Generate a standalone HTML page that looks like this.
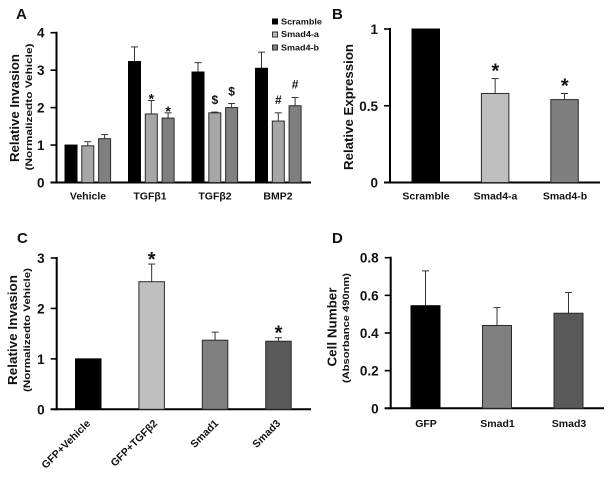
<!DOCTYPE html>
<html>
<head>
<meta charset="utf-8">
<style>
html,body{margin:0;padding:0;background:#fff;width:612px;height:477px;overflow:hidden}
svg{display:block;filter:blur(.35px)}
text{font-family:"Liberation Sans",sans-serif;fill:#111}
.b{font-weight:bold}
</style>
</head>
<body>
<svg id="figure" width="612" height="477" viewBox="0 0 612 477" xmlns="http://www.w3.org/2000/svg">
<rect width="612" height="477" fill="#fff"/>
<text class="b" x="16" y="19" font-size="15">A</text>
<text class="b" x="332" y="19" font-size="15">B</text>
<text class="b" x="17" y="243" font-size="15">C</text>
<text class="b" x="332" y="243" font-size="15">D</text>

<text class="b" transform="translate(19,108) rotate(-90)" text-anchor="middle" font-size="12.5" textLength="108" lengthAdjust="spacingAndGlyphs">Relative Invasion</text>
<text class="b" transform="translate(32,107) rotate(-90)" text-anchor="middle" font-size="9.5" textLength="127" lengthAdjust="spacingAndGlyphs">(Normalizedto Vehicle)</text>
<text class="b" transform="translate(353,107) rotate(-90)" text-anchor="middle" font-size="12.5" textLength="126" lengthAdjust="spacingAndGlyphs">Relative Expression</text>
<text class="b" transform="translate(17,330) rotate(-90)" text-anchor="middle" font-size="12.5" textLength="110" lengthAdjust="spacingAndGlyphs">Relative Invasion</text>
<text class="b" transform="translate(30,330) rotate(-90)" text-anchor="middle" font-size="9.5" textLength="124" lengthAdjust="spacingAndGlyphs">(Normalizedto Vehicle)</text>
<text class="b" transform="translate(336.5,327) rotate(-90)" text-anchor="middle" font-size="12.5" textLength="79" lengthAdjust="spacingAndGlyphs">Cell Number</text>
<text class="b" transform="translate(349,328) rotate(-90)" text-anchor="middle" font-size="9.5" textLength="110" lengthAdjust="spacingAndGlyphs">(Absorbance 490nm)</text>

<g>
<rect x="272.5" y="19" width="5" height="5" fill="#000" stroke="#000" stroke-width="1"/>
<text class="b" x="281" y="24.5" font-size="8.5" textLength="41" lengthAdjust="spacingAndGlyphs">Scramble</text>
<rect x="272.5" y="32" width="5" height="5" fill="#bbb" stroke="#333" stroke-width="1"/>
<text class="b" x="281" y="37" font-size="8.5" textLength="38" lengthAdjust="spacingAndGlyphs">Smad4-a</text>
<rect x="272.5" y="45" width="5" height="5" fill="#7f7f7f" stroke="#333" stroke-width="1"/>
<text class="b" x="281" y="50.5" font-size="8.5" textLength="38" lengthAdjust="spacingAndGlyphs">Smad4-b</text>
</g>
</svg>

<script>
// Panel A
const aCategories = ['Vehicle', 'TGFβ1', 'TGFβ2', 'BMP2'];
const aScramble = [1, 3.23, 2.95, 3.05];
const aScrambleTop = [null, 3.62, 3.2, 3.48];
const aSmad4a = [0.98, 1.83, 1.86, 1.64];
const aSmad4aTop = [1.09, 2.19, 1.88, 1.86];
const aSmad4b = [1.17, 1.72, 2.0, 2.05];
const aSmad4bTop = [1.28, 1.86, 2.11, 2.27];
const aSigA = ['', '*', '$', '#'];
const aSigB = ['', '*', '$', '#'];
const aTicks = [0, 1, 2, 3, 4];
// Panel B
const bCategories = ['Scramble', 'Smad4-a', 'Smad4-b'];
const bValues = [1, 0.58, 0.54];
const bTops = [null, 0.677, 0.58];
const bSig = ['', '*', '*'];
const bTicks = [0, 0.5, 1];
// Panel C
const cCategories = ['GFP+Vehicle', 'GFP+TGFβ2', 'Smad1', 'Smad3'];
const cValues = [1, 2.53, 1.37, 1.35];
const cTops = [null, 2.88, 1.53, 1.42];
const cSig = ['', '*', '', '*'];
const cTicks = [0, 1, 2, 3];
// Panel D
const dCategories = ['GFP', 'Smad1', 'Smad3'];
const dValues = [0.545, 0.44, 0.505];
const dTops = [0.73, 0.535, 0.615];
const dTicks = [0, 0.2, 0.4, 0.6, 0.8];

const svg = document.getElementById('figure');
const NS = 'http://www.w3.org/2000/svg';

function make(tag, props, content) {
  const el = document.createElementNS(NS, tag);
  for (const k in props) el.setAttribute(k, props[k]);
  if (content !== undefined) el.textContent = content;
  svg.appendChild(el);
  return el;
}

function linearScale(y0, yMax, maxVal) {
  return function (v) { return y0 - (y0 - yMax) * v / maxVal; };
}

function drawAxes(p, o) {
  let el = make('line', {x1: o.axisX, x2: o.axisX, y1: o.yTop - 1, y2: o.y0 + 1, stroke: '#000', 'stroke-width': 2});
  
  
  el = make('line', {x1: o.axisX - 6, x2: o.axisEnd, y1: o.y0, y2: o.y0, stroke: '#000', 'stroke-width': 2});
  
  
  o.ticks.forEach(function (t) {
    const y = o.scale(t);
    let tick = make('line', {x1: o.axisX - 6, x2: o.axisX, y1: y, y2: y, stroke: '#000', 'stroke-width': 1.6});
    
    
    let label = make('text', {x: o.axisX - 12, y: y + 5, 'text-anchor': 'end', 'font-size': 13.5, 'font-weight': 'bold'}, String(t));
    
    
  });
}

function drawBar(p, x, w, value, top, fill, scale, y0) {
  if (top !== null) {
    const cx = x + w / 2;
    let stem = make('line', {x1: cx, x2: cx, y1: scale(value), y2: scale(top), stroke: '#333', 'stroke-width': 1});
    
    
    let cap = make('line', {x1: cx - 3.5, x2: cx + 3.5, y1: scale(top), y2: scale(top), stroke: '#333', 'stroke-width': 1});
    
    
  }
  const yT = scale(value);
  let bar = make('rect', {x: x, y: yT, width: w, height: y0 - yT, fill: fill, stroke: fill === '#000' ? '#000' : '#2a2a2a', 'stroke-width': 1});
  
  
}

function drawSig(p, sym, cx, topY, size, gap) {
  let el = make('text', {x: cx, y: topY - gap, 'text-anchor': 'middle', 'font-size': size, 'font-weight': 'bold'}, sym);
  
  
}

function drawXLabel(p, text, cx, y) {
  let el = make('text', {x: cx, y: y, 'text-anchor': 'middle', 'font-size': 10.5, 'font-weight': 'bold'}, text);
  
  
}

// --- Panel A ---
const aY = linearScale(182.5, 32.7, 4);
drawAxes('panel-a', {axisX: 56.5, axisEnd: 311, y0: 182.5, yTop: 32.7, ticks: aTicks, scale: aY});
const aFills = ['#000', '#a6a6a6', '#7f7f7f'];
const aSeries = [aScramble, aSmad4a, aSmad4b];
const aTopsAll = [aScrambleTop, aSmad4aTop, aSmad4bTop];
const aXLabelCentres = [88, 150, 215, 278];
aCategories.forEach(function (c, g) {
  const gx = 65 + g * 63.5;
  aSeries.forEach(function (s, i) {
    drawBar('panel-a', gx + i * 16.8, 12, s[g], aTopsAll[i][g], aFills[i], aY, 182.5);
  });
  const gaps = {'*': -3, '$': 8, '#': 9};
  if (aSigA[g]) drawSig('panel-a', aSigA[g], gx + 16.8 + 6, aY(aSmad4aTop[g]), aSigA[g] === '*' ? 14 : 12, gaps[aSigA[g]]);
  if (aSigB[g]) drawSig('panel-a', aSigB[g], gx + 33.6 + 6, aY(aSmad4bTop[g]), aSigB[g] === '*' ? 14 : 12, gaps[aSigB[g]]);
  drawXLabel('panel-a', c, aXLabelCentres[g], 199.5);
});

// --- Panel B ---
const bY = linearScale(182.5, 29, 1);
drawAxes('panel-b', {axisX: 390, axisEnd: 600, y0: 182.5, yTop: 29, ticks: bTicks, scale: bY});
const bFills = ['#000', '#bfbfbf', '#7f7f7f'];
bCategories.forEach(function (c, i) {
  const x = 412 + i * 69.4;
  drawBar('panel-b', x, 27.5, bValues[i], bTops[i], bFills[i], bY, 182.5);
  if (bSig[i]) drawSig('panel-b', bSig[i], x + 14, bY(bTops[i]), 20, 1);
  drawXLabel('panel-b', c, 426 + i * 69.5, 199.5);
});

// --- Panel C ---
const cY = linearScale(409.3, 258, 3);
drawAxes('panel-c', {axisX: 56.7, axisEnd: 311, y0: 409.3, yTop: 258, ticks: cTicks, scale: cY});
const cFills = ['#000', '#bfbfbf', '#808080', '#595959'];
const cLabelEnds = [91, 158, 219, 281];
cCategories.forEach(function (c, i) {
  const x = 75.5 + i * 63.4;
  drawBar('panel-c', x, 25.5, cValues[i], cTops[i], cFills[i], cY, 409.3);
  if (cSig[i]) drawSig('panel-c', cSig[i], x + 12.8, cY(cTops[i]), 20, -2);
  let label = make('text', {transform: 'translate(' + cLabelEnds[i] + ',424) rotate(-45)', 'text-anchor': 'end', 'font-size': 10.5, 'font-weight': 'bold'}, c);
  
  
});

// --- Panel D ---
const dY = linearScale(408.3, 257.7, 0.8);
drawAxes('panel-d', {axisX: 390.7, axisEnd: 604, y0: 408.3, yTop: 257.7, ticks: dTicks, scale: dY});
const dFills = ['#000', '#808080', '#595959'];
dCategories.forEach(function (c, i) {
  const x = 411 + i * 71.5;
  drawBar('panel-d', x, 29, dValues[i], dTops[i], dFills[i], dY, 408.3);
  drawXLabel('panel-d', c, 426 + i * 71.5, 427);
});
</script>
</body>
</html>
